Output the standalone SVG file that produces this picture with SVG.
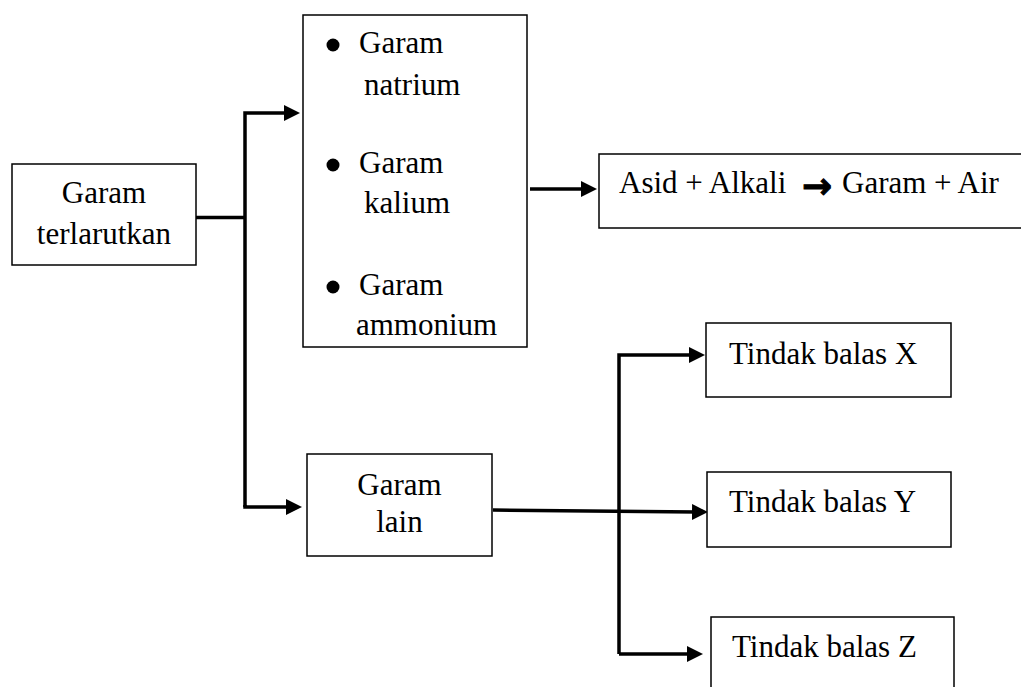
<svg xmlns="http://www.w3.org/2000/svg" width="1021" height="687" viewBox="0 0 1021 687">
<style>
.box{fill:#fff;stroke:#000;stroke-width:1.5}
text{font-family:'Liberation Serif',Tinos,'Times New Roman','DejaVu Serif',serif;font-size:31px;fill:#000}
.c{text-anchor:middle}
.ln{fill:none;stroke:#000;stroke-width:3.5;stroke-linejoin:miter}
.arr{marker-end:url(#ah)}
</style>
<defs>
<marker id="ah" markerUnits="userSpaceOnUse" markerWidth="18" markerHeight="18" refX="4" refY="8" orient="auto">
<path d="M0,0 L16,8 L0,16 Z" fill="#000"/>
</marker>
</defs>
<rect width="1021" height="687" fill="#fff"/>
<g id="connectors">
<path class="ln" d="M196,217.5 H245"/>
<path class="ln arr" d="M245,507 V113 H288"/>
<path class="ln arr" d="M245,505 V507 H290"/>
<path class="ln arr" d="M530,189 H585"/>
<path class="ln arr" d="M619,654 V355 H693"/>
<path class="ln arr" d="M619,654 H691"/>
<path class="ln arr" d="M493,510 L696,512"/>
</g>
<g id="garam-terlarutkan">
<rect class="box" x="12" y="164" width="184" height="101"/>
<text class="c" x="104" y="203">Garam</text>
<text class="c" x="104" y="244">terlarutkan</text>
</g>
<g id="garam-list">
<rect class="box" x="303" y="15" width="224" height="332"/>
<circle cx="333" cy="45" r="6.5"/>
<text x="359" y="53">Garam</text>
<text x="364" y="95">natrium</text>
<circle cx="333" cy="165" r="6.5"/>
<text x="359" y="173">Garam</text>
<text x="364" y="213">kalium</text>
<circle cx="333" cy="287" r="6.5"/>
<text x="359" y="295">Garam</text>
<text x="356" y="335">ammonium</text>
</g>
<g id="asid-alkali">
<rect class="box" x="599" y="154" width="430" height="74"/>
<text y="193"><tspan x="619">Asid + Alkali</tspan><tspan x="802" dy="5" font-family="'DejaVu Sans', sans-serif" font-weight="bold" font-size="36" stroke="#000" stroke-width="1">→</tspan><tspan x="842" dy="-5">Garam + Air</tspan></text>
</g>
<g id="garam-lain">
<rect class="box" x="307" y="454" width="185" height="102"/>
<text class="c" x="399.5" y="495">Garam</text>
<text class="c" x="399.5" y="532">lain</text>
</g>
<g id="tindak-x">
<rect class="box" x="706" y="323" width="245" height="74"/>
<text x="729" y="364">Tindak balas X</text>
</g>
<g id="tindak-y">
<rect class="box" x="707" y="472" width="244" height="75"/>
<text x="729" y="512">Tindak balas Y</text>
</g>
<g id="tindak-z">
<rect class="box" x="711" y="617" width="243" height="80"/>
<text x="732" y="657">Tindak balas Z</text>
</g>
</svg>
